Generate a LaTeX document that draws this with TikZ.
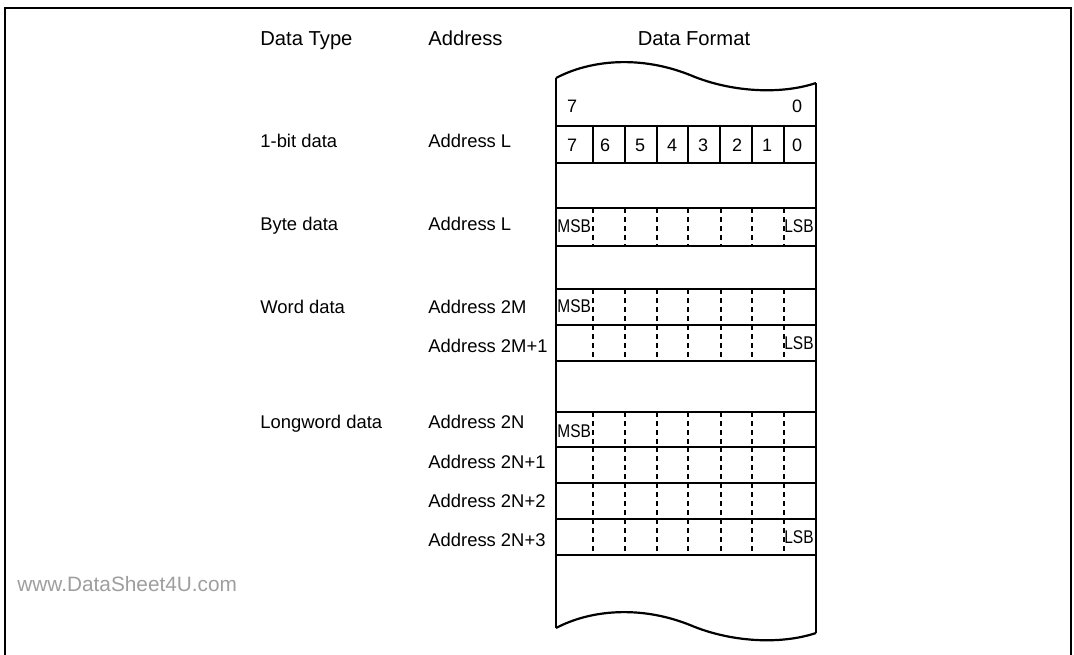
\documentclass[tikz,border=0pt]{standalone}
\usepackage{fontspec}
\setmainfont{Liberation Sans}
\newfontfamily\narrowfont[FakeStretch=0.84]{Liberation Sans}

\begin{document}
\begin{tikzpicture}[
        x=0.5pt, y=-0.5pt,
        head/.style={font=\fontsize{10.1}{12}\selectfont, inner sep=0pt, anchor=base west},
        txt/.style={font=\fontsize{9.2}{11}\selectfont, inner sep=0pt, anchor=base west},
        bit/.style={font=\fontsize{9}{11}\selectfont, inner sep=0pt},
        ms/.style={font=\narrowfont\fontsize{9.2}{11}\selectfont, inner sep=0pt},
        rowline/.style={line width=1.1pt, line join=round},
        cellline/.style={line width=0.7pt},
        sep/.style={line width=0.6pt, dash pattern=on 2.5pt off 2pt},
        wm/.style={head, font=\fontsize{10.4}{12}\selectfont, text=black!38}
    ]
        \useasboundingbox (0,0) rectangle (1074,654);

        % outer frame (open at the bottom)
        \draw[line width=1.2pt] (5,700) -- (5,8) -- (1071,8) -- (1071,700);

        % column heads
        \node[head] (hType) at (260,45) {Data Type};
        \node[head] (hAddr) at (428,45) {Address};
        \node[head, anchor=base] (hFmt) at (694,45) {Data Format};

        % data types
        \node[txt] (tBit)  at (260,147) {1-bit data};
        \node[txt] (tByte) at (260,230) {Byte data};
        \node[txt] (tWord) at (260,313) {Word data};
        \node[txt] (tLong) at (260,428) {Longword data};

        % addresses
        \node[txt] (aBit)   at (428,147) {Address L};
        \node[txt] (aByte)  at (428,230) {Address L};
        \node[txt] (aW0)    at (428,313) {Address 2M};
        \node[txt] (aW1)    at (428,352) {Address 2M+1};
        \node[txt] (aL0)    at (428,428) {Address 2N};
        \node[txt] (aL1)    at (428,468) {Address 2N+1};
        \node[txt] (aL2)    at (428,507) {Address 2N+2};
        \node[txt] (aL3)    at (428,546) {Address 2N+3};

        \node[wm] (web) at (17,591) {www.DataSheet4U.com};

        % broken memory strip
        \draw[rowline] (556,78) .. controls (590,60) and (640,55) .. (690,75)
            .. controls (730,92) and (780,95) .. (816,83);
        \draw[rowline] (556,628) .. controls (590,610) and (640,605) .. (690,625)
            .. controls (730,642) and (780,645) .. (816,633);
        \draw[rowline] (556,78) -- (556,628);
        \draw[rowline] (816,83) -- (816,633);
        \foreach \y in {126,163,208,246,289,325,361,412,447,483,519,555}
            \draw[rowline] (556,\y) -- (816,\y);

        % bit numbers
        \node[bit] (top7) at (572,106) {7};
        \node[bit] (top0) at (797,106) {0};
        \foreach \b/\x in {7/572,6/605,5/640,4/672,3/703,2/737,1/767,0/797}
            \node[bit] (b\b) at (\x,145) {\b};
        \foreach \x in {593,625,657,688,720,752,784}
            \draw[cellline] (\x,126) -- (\x,163);

        % dashed bit boundaries
        \foreach \r/\s in {208/246,289/325,325/361,412/447,447/483,483/519,519/555}
            \foreach \x in {593,625,657,688,721,752,784}
                \draw[sep] (\x,\r) -- (\x,\s);

        % MSB / LSB marks
        \node[ms, anchor=west] (mByte) at (557,226) {MSB};
        \node[ms, anchor=east] (lByte) at (814,226) {LSB};
        \node[ms, anchor=west] (mWord) at (557,306) {MSB};
        \node[ms, anchor=east] (lWord) at (814,343) {LSB};
        \node[ms, anchor=west] (mLong) at (557,431) {MSB};
        \node[ms, anchor=east] (lLong) at (814,537) {LSB};

    \end{tikzpicture}
\end{document}
